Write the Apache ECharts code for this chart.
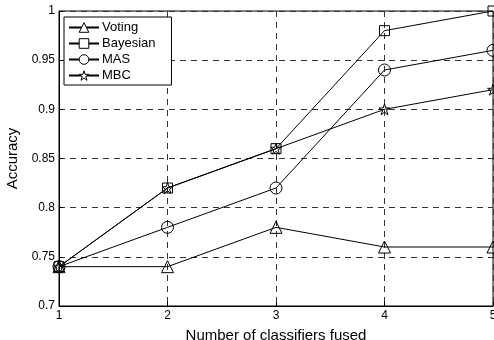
<!DOCTYPE html>
<html><head><meta charset="utf-8">
<script src="https://cdn.jsdelivr.net/npm/echarts@6/dist/echarts.min.js"></script>
<style>html,body{margin:0;padding:0;background:#fff}#c{width:494px;height:340px}</style>
</head><body><div id="c"></div>
<script>
var xValues = [1, 2, 3, 4, 5];
var seriesNames = ['Voting', 'Bayesian', 'MAS', 'MBC'];
var voting = [0.74, 0.74, 0.78, 0.76, 0.76];
var bayesian = [0.74, 0.82, 0.86, 0.98, 1.0];
var mas = [0.74, 0.78, 0.82, 0.94, 0.96];
var mbc = [0.74, 0.82, 0.86, 0.90, 0.92];
var xTitle = 'Number of classifiers fused';
var yTitle = 'Accuracy';

var star = 'path://M50,2 L61,36 L97,36 L68,57 L79,92 L50,70 L21,92 L32,57 L3,36 L39,36 Z';
var symbols = ['triangle', 'rect', 'circle', star];
var sizes = [12, 10, 12, 11];
var data = [voting, bayesian, mas, mbc];

var chart = echarts.init(document.getElementById('c'));
var font = 'Liberation Sans, Arial, sans-serif';
var hollow = {color: '#fff', borderColor: '#000', borderWidth: 1};
chart.setOption({
  animation: false,
  textStyle: {fontFamily: font},
  grid: {left: 59, right: 1, top: 11, bottom: 34, show: true, borderColor: '#000', borderWidth: 1,
         containLabel: false, outerBoundsMode: 'none'},
  legend: {
    left: 64, top: 17, orient: 'vertical', itemGap: 3,
    itemWidth: 30, itemHeight: 12,
    backgroundColor: '#fff', borderColor: '#000', borderWidth: 1,
    padding: [4, 16, 3, 4],
    itemStyle: hollow,
    textStyle: {fontSize: 13, color: '#000', fontFamily: font, padding: [0, 0, 0, -2]},
    data: seriesNames.map(function (n) { return {name: n, itemStyle: hollow}; })
  },
  xAxis: {
    type: 'value', min: 1, max: 5, interval: 1,
    name: xTitle, nameLocation: 'middle', nameGap: 22,
    nameTextStyle: {fontSize: 15, color: '#000'},
    axisLine: {lineStyle: {color: '#000'}},
    axisTick: {inside: true, length: 4, lineStyle: {color: '#000'}},
    axisLabel: {color: '#000', fontSize: 12, margin: 4},
    splitLine: {show: true, lineStyle: {type: [6, 5], color: '#333'}}
  },
  yAxis: {
    type: 'value', min: 0.7, max: 1, interval: 0.05,
    name: yTitle, nameLocation: 'middle', nameGap: 39,
    nameTextStyle: {fontSize: 15, color: '#000'},
    axisLine: {lineStyle: {color: '#000'}},
    axisTick: {inside: true, length: 4, lineStyle: {color: '#000'}},
    axisLabel: {color: '#000', fontSize: 12, margin: 4,
      formatter: function (v) { return String(parseFloat(v.toFixed(2))); }},
    splitLine: {show: true, lineStyle: {type: [6, 5], color: '#333'}}
  },
  series: seriesNames.map(function (n, i) {
    return {
      name: n, type: 'line',
      data: xValues.map(function (x, j) { return [x, data[i][j]]; }),
      symbol: symbols[i], symbolSize: sizes[i], showSymbol: true,
      lineStyle: {color: '#000', width: 1},
      itemStyle: {color: 'rgba(0,0,0,0)', borderColor: '#000', borderWidth: 1},
      clip: false
    };
  })
});
</script></body></html>
